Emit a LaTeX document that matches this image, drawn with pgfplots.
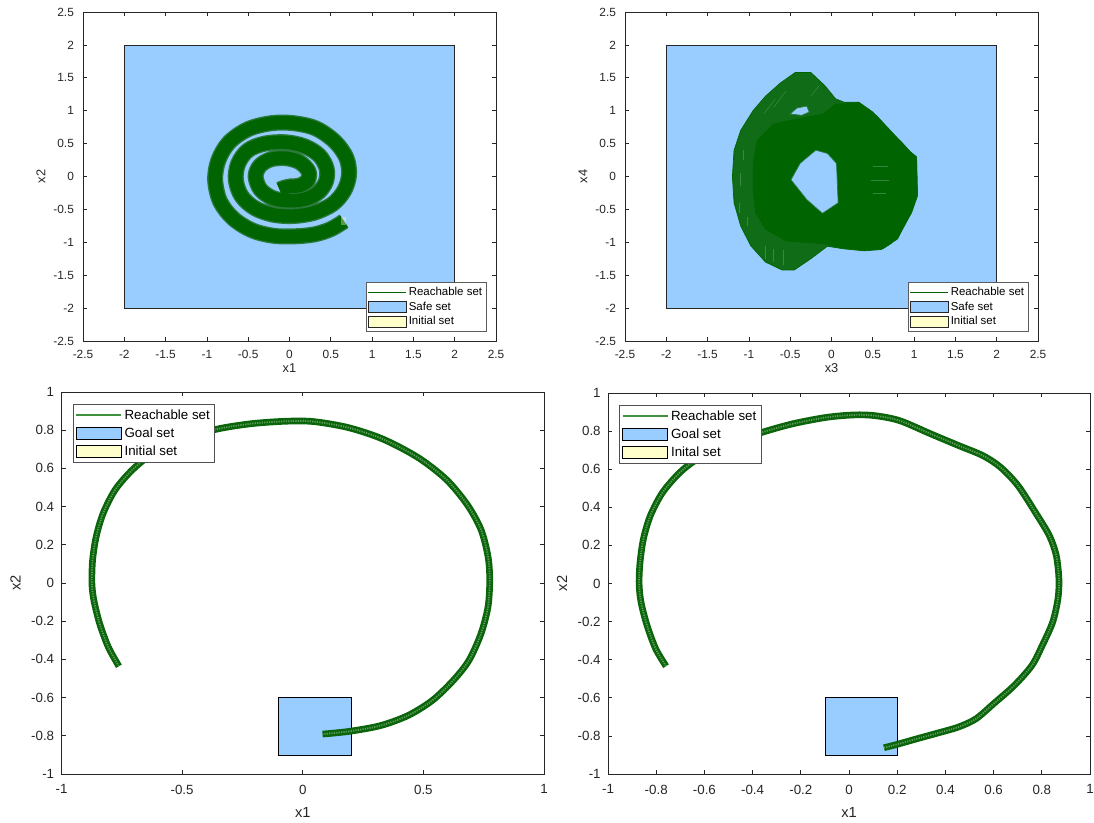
\documentclass[border=0pt]{standalone}
\usepackage{fontspec}
\setmainfont{Liberation Sans}
\usepackage{pgfplots}
\pgfplotsset{compat=1.18}
\definecolor{axgray}{HTML}{262626}
\definecolor{safeblue}{HTML}{99CCFF}
\definecolor{inityellow}{HTML}{FFFFCC}
\definecolor{reachgreen}{HTML}{006400}
\definecolor{hatchgreen}{HTML}{2B7A3C}
\definecolor{hatchdark}{HTML}{106C16}
\definecolor{streak}{HTML}{4C9456}
\definecolor{legline}{HTML}{3F913F}
\definecolor{tubedark}{HTML}{0B650B}
\definecolor{tubelight}{HTML}{5E9E5E}

\pgfplotsset{
  matstyle/.style={
    scale only axis,
    axis line style={axgray, line width=0.6pt},
    tick style={axgray, line width=0.5pt},
    tick align=inside,
    major tick length=3pt,
    ticklabel style={text=axgray},
    label style={text=axgray},
    /pgf/number format/assume math mode=true,
    /pgf/number format/fixed,
    no markers,
    legend cell align=left,
  },
  topstyle/.style={
    matstyle,
    width=309.75pt, height=246.75pt,
    xmin=-2.5, xmax=2.5, ymin=-2.5, ymax=2.5,
    xtick={-2.5,-2,-1.5,-1,-0.5,0,0.5,1,1.5,2,2.5},
    ytick={-2.5,-2,-1.5,-1,-0.5,0,0.5,1,1.5,2,2.5},
    ticklabel style={font=\fontsize{8.9}{10}\selectfont},
    xticklabel style={yshift=-3.3pt},
    yticklabel style={xshift=-3.3pt},
    label style={font=\fontsize{9.6}{11}\selectfont},
    xlabel style={at={(axis description cs:0.5,0)}, anchor=center, yshift=-20pt},
    ylabel style={at={(axis description cs:0,0.5)}, anchor=center, yshift=31.5pt},
    legend style={at={(0.9775,0.027)}, anchor=south east, draw=axgray!75, line width=0.5pt,
      font=\fontsize{8.6}{10}\selectfont, inner xsep=1.6pt, inner ysep=2pt, row sep=0.3pt,
      nodes={inner sep=1.6pt}},
  },
  botstyle/.style={
    matstyle,
    xmin=-1, xmax=1, ymin=-1, ymax=1,
    ytick={-1,-0.8,-0.6,-0.4,-0.2,0,0.2,0.4,0.6,0.8,1},
    ticklabel style={font=\fontsize{10}{12}\selectfont},
    xticklabel style={yshift=-4.5pt},
    yticklabel style={xshift=-2pt},
    label style={font=\fontsize{11}{13}\selectfont},
    xlabel style={at={(axis description cs:0.5,0)}, anchor=center, yshift=-28.5pt},
    ylabel style={at={(axis description cs:0,0.5)}, anchor=center, yshift=34.5pt},
    legend style={at={(0.0234,0.9686)}, anchor=north west, draw=axgray!80, line width=0.5pt,
      font=\fontsize{10}{12}\selectfont, inner xsep=1.8pt, inner ysep=2pt, row sep=1.1pt,
      nodes={inner sep=1.9pt}},
  },
  legreach/.style={legend image code/.code={\draw[draw=reachgreen, line width=0.45pt] (0pt,0pt) -- (28.5pt,0pt);}},
  legsafe/.style={legend image code/.code={\draw[fill=safeblue, draw=axgray, line width=0.5pt] (0pt,-4.1pt) rectangle (28.5pt,4.1pt);}},
  leginit/.style={legend image code/.code={\draw[fill=inityellow, draw=axgray, line width=0.5pt] (0pt,-4.1pt) rectangle (28.5pt,4.1pt);}},
  legreachB/.style={legend image code/.code={\draw[draw=legline, line width=1.3pt] (0pt,0pt) -- (33.6pt,0pt);}},
  leggoalB/.style={legend image code/.code={\draw[fill=safeblue, draw=black, line width=0.6pt] (0pt,-4.5pt) rectangle (33.6pt,4.5pt);}},
  leginitB/.style={legend image code/.code={\draw[fill=inityellow, draw=black, line width=0.6pt] (0pt,-4.5pt) rectangle (33.6pt,4.5pt);}},
}

\begin{document}
\begin{tikzpicture}
\path[use as bounding box] (0pt,0pt) rectangle (820.5pt,616.5pt);

%================ top left =================
\begin{axis}[topstyle, at={(62.25pt,360.75pt)}, anchor=south west,
  xlabel={x1}, ylabel={x2}]
\addplot[fill=safeblue, draw=axgray, line width=0.4pt, forget plot]
  coordinates {(-2,-2) (2,-2) (2,2) (-2,2)} --cycle;
\addplot[draw=hatchgreen, line width=12pt, smooth, tension=0.55, line join=round, forget plot]
  coordinates {
  (0.66,-0.68) (0.50,-0.80) (0.30,-0.88) (0.05,-0.91) (-0.20,-0.90) (-0.45,-0.82)
  (-0.68,-0.64) (-0.84,-0.38) (-0.90,-0.05) (-0.86,0.25) (-0.73,0.52) (-0.50,0.72)
  (-0.22,0.81) (0.05,0.81) (0.32,0.73) (0.55,0.53) (0.69,0.28) (0.72,0.02)
  (0.66,-0.22) (0.52,-0.42) (0.30,-0.55) (0.05,-0.60) (-0.20,-0.58) (-0.42,-0.48)
  (-0.58,-0.30) (-0.65,-0.05) (-0.62,0.20) (-0.50,0.40) (-0.30,0.50) (-0.05,0.52)
  (0.18,0.46) (0.36,0.32) (0.45,0.12) (0.44,-0.08) (0.35,-0.24) (0.20,-0.34)
  (0.00,-0.37) (-0.20,-0.33) (-0.35,-0.20) (-0.41,0.00) (-0.36,0.16) (-0.23,0.26)
  (-0.05,0.28) (0.12,0.22) (0.23,0.08) (0.22,-0.06) (0.12,-0.14) (0.02,-0.15)
  (-0.06,-0.17) (-0.12,-0.20)};
\addplot[draw=reachgreen, line width=10pt, smooth, tension=0.55, line join=round, forget plot]
  coordinates {
  (0.66,-0.68) (0.50,-0.80) (0.30,-0.88) (0.05,-0.91) (-0.20,-0.90) (-0.45,-0.82)
  (-0.68,-0.64) (-0.84,-0.38) (-0.90,-0.05) (-0.86,0.25) (-0.73,0.52) (-0.50,0.72)
  (-0.22,0.81) (0.05,0.81) (0.32,0.73) (0.55,0.53) (0.69,0.28) (0.72,0.02)
  (0.66,-0.22) (0.52,-0.42) (0.30,-0.55) (0.05,-0.60) (-0.20,-0.58) (-0.42,-0.48)
  (-0.58,-0.30) (-0.65,-0.05) (-0.62,0.20) (-0.50,0.40) (-0.30,0.50) (-0.05,0.52)
  (0.18,0.46) (0.36,0.32) (0.45,0.12) (0.44,-0.08) (0.35,-0.24) (0.20,-0.34)
  (0.00,-0.37) (-0.20,-0.33) (-0.35,-0.20) (-0.41,0.00) (-0.36,0.16) (-0.23,0.26)
  (-0.05,0.28) (0.12,0.22) (0.23,0.08) (0.22,-0.06) (0.12,-0.14) (0.02,-0.15)
  (-0.06,-0.17) (-0.12,-0.20)};
\addplot[fill=inityellow, draw=none, fill opacity=0.35, forget plot]
  coordinates {(0.62,-0.74) (0.69,-0.74) (0.69,-0.62) (0.62,-0.62)} --cycle;
\addlegendimage{legreach}
\addlegendimage{legsafe}
\addlegendimage{leginit}
\legend{Reachable set, Safe set, Initial set}
\end{axis}

%================ top right =================
\begin{axis}[topstyle, at={(468.75pt,360.75pt)}, anchor=south west,
  xlabel={x3}, ylabel={x4}]
\addplot[fill=safeblue, draw=axgray, line width=0.4pt, forget plot]
  coordinates {(-2,-2) (2,-2) (2,2) (-2,2)} --cycle;
% outer envelope (hatched region)
\addplot[fill=hatchdark, draw=reachgreen, line width=0.5pt, forget plot]
  coordinates {(-0.44,1.58) (-0.25,1.58) (-0.08,1.38) (0.05,1.18) (0.15,1.13) (0.33,1.13)
  (0.50,0.98) (0.68,0.72) (0.85,0.52) (0.95,0.38) (1.03,0.30) (1.04,-0.30) (0.97,-0.55)
  (0.85,-0.82) (0.72,-1.02) (0.60,-1.11) (0.40,-1.13) (0.15,-1.10) (-0.05,-1.06)
  (-0.25,-1.25) (-0.45,-1.42) (-0.60,-1.42) (-0.80,-1.30) (-0.98,-1.05) (-1.10,-0.75)
  (-1.18,-0.40) (-1.20,0.00) (-1.18,0.40) (-1.10,0.70) (-0.95,1.00) (-0.80,1.22)
  (-0.62,1.42)} --cycle;
% light streaks in the hatched parts
\addplot[draw=streak, line width=0.4pt, draw opacity=0.7, forget plot] coordinates {(-1.12,-0.55) (-1.12,-0.40)};
\addplot[draw=streak, line width=0.4pt, draw opacity=0.7, forget plot] coordinates {(-1.10,-0.15) (-1.10,0.05)};
\addplot[draw=streak, line width=0.4pt, draw opacity=0.7, forget plot] coordinates {(-1.07,0.25) (-1.07,0.40)};
\addplot[draw=streak, line width=0.4pt, draw opacity=0.7, forget plot] coordinates {(-1.02,-0.75) (-1.02,-0.62)};
\addplot[draw=streak, line width=0.4pt, draw opacity=0.7, forget plot] coordinates {(-0.80,-1.25) (-0.80,-1.05)};
\addplot[draw=streak, line width=0.4pt, draw opacity=0.7, forget plot] coordinates {(-0.70,-1.30) (-0.70,-1.10)};
\addplot[draw=streak, line width=0.4pt, draw opacity=0.7, forget plot] coordinates {(-0.58,-1.35) (-0.58,-1.12)};
\addplot[draw=streak, line width=0.4pt, draw opacity=0.7, forget plot] coordinates {(-0.70,1.05) (-0.55,1.30)};
\addplot[draw=streak, line width=0.4pt, draw opacity=0.7, forget plot] coordinates {(-0.82,0.95) (-0.68,1.18)};
\addplot[draw=streak, line width=0.4pt, draw opacity=0.7, forget plot] coordinates {(-0.25,1.22) (-0.15,1.38)};
% solid core
\addplot[fill=reachgreen, draw=reachgreen, line width=0.4pt, forget plot]
  coordinates {(-0.90,0.55) (-0.70,0.80) (-0.40,0.88) (-0.10,0.95) (0.05,1.10) (0.33,1.12)
  (0.55,0.92) (0.75,0.65) (0.95,0.38) (1.03,0.28) (1.04,-0.28) (0.95,-0.58) (0.80,-0.95)
  (0.62,-1.10) (0.40,-1.12) (0.10,-1.08) (-0.10,-1.02) (-0.35,-1.00) (-0.55,-0.98)
  (-0.80,-0.80) (-0.92,-0.55) (-0.95,-0.20) (-0.95,0.20)} --cycle;
\addplot[draw=streak, line width=0.4pt, draw opacity=0.7, forget plot] coordinates {(0.50,0.15) (0.68,0.15)};
\addplot[draw=streak, line width=0.4pt, draw opacity=0.7, forget plot] coordinates {(0.48,-0.05) (0.70,-0.05)};
\addplot[draw=streak, line width=0.4pt, draw opacity=0.7, forget plot] coordinates {(0.50,-0.25) (0.66,-0.25)};
% central hole
\addplot[fill=safeblue, draw=hatchgreen, line width=0.5pt, forget plot]
  coordinates {(-0.19,0.40) (-0.05,0.35) (0.06,0.20) (0.08,-0.40) (-0.11,-0.56)
  (-0.30,-0.35) (-0.49,-0.05) (-0.38,0.20)} --cycle;
% upper small hole
\addplot[fill=safeblue, draw=hatchgreen, line width=0.5pt, forget plot]
  coordinates {(-0.50,0.95) (-0.42,1.04) (-0.30,1.07) (-0.27,0.98) (-0.36,0.93)} --cycle;
\addlegendimage{legreach}
\addlegendimage{legsafe}
\addlegendimage{leginit}
\legend{Reachable set, Safe set, Initial set}
\end{axis}

%================ bottom left =================
\begin{axis}[botstyle, at={(46.125pt,36pt)}, anchor=south west,
  width=361.875pt, height=286.5pt,
  xtick={-1,-0.5,0,0.5,1},
  xlabel={x1}, ylabel={x2}]
\addplot[fill=safeblue, draw=black, line width=0.6pt, forget plot]
  coordinates {(-0.1,-0.9) (0.2,-0.9) (0.2,-0.6) (-0.1,-0.6)} --cycle;
\addplot[draw=tubedark, line width=5pt, smooth, forget plot] coordinates {
  (-0.762,-0.436) (-0.806,-0.335) (-0.842,-0.212) (-0.866,-0.089) (-0.874,0.0)
  (-0.871,0.121) (-0.856,0.244) (-0.827,0.366) (-0.777,0.489) (-0.705,0.594)
  (-0.618,0.682) (-0.503,0.752) (-0.358,0.805) (-0.214,0.834) (-0.069,0.847)
  (0.046,0.845) (0.191,0.813) (0.335,0.752) (0.479,0.656) (0.595,0.542)
  (0.682,0.410) (0.739,0.279) (0.768,0.138) (0.775,0.016) (0.768,-0.124)
  (0.739,-0.265) (0.689,-0.405) (0.624,-0.510) (0.537,-0.615) (0.436,-0.694)
  (0.321,-0.747) (0.191,-0.777) (0.082,-0.791)};
\addplot[draw=tubelight, line width=1.3pt, smooth, dash pattern=on 0.9pt off 0.9pt, forget plot] coordinates {
  (-0.762,-0.436) (-0.806,-0.335) (-0.842,-0.212) (-0.866,-0.089) (-0.874,0.0)
  (-0.871,0.121) (-0.856,0.244) (-0.827,0.366) (-0.777,0.489) (-0.705,0.594)
  (-0.618,0.682) (-0.503,0.752) (-0.358,0.805) (-0.214,0.834) (-0.069,0.847)
  (0.046,0.845) (0.191,0.813) (0.335,0.752) (0.479,0.656) (0.595,0.542)
  (0.682,0.410) (0.739,0.279) (0.768,0.138) (0.775,0.016) (0.768,-0.124)
  (0.739,-0.265) (0.689,-0.405) (0.624,-0.510) (0.537,-0.615) (0.436,-0.694)
  (0.321,-0.747) (0.191,-0.777) (0.082,-0.791)};
\addlegendimage{legreachB}
\addlegendimage{leggoalB}
\addlegendimage{leginitB}
\legend{Reachable set, Goal set, Initial set}
\end{axis}

%================ bottom right =================
\begin{axis}[botstyle, at={(456pt,36pt)}, anchor=south west,
  width=361.5pt, height=285.75pt,
  xtick={-1,-0.8,-0.6,-0.4,-0.2,0,0.2,0.4,0.6,0.8,1},
  xlabel={x1}, ylabel={x2}]
\addplot[fill=safeblue, draw=black, line width=0.6pt, forget plot]
  coordinates {(-0.1,-0.9) (0.2,-0.9) (0.2,-0.6) (-0.1,-0.6)} --cycle;
\addplot[draw=tubedark, line width=5pt, smooth, forget plot] coordinates {
  (-0.759,-0.434) (-0.802,-0.343) (-0.838,-0.220) (-0.863,-0.098) (-0.871,0.0)
  (-0.867,0.112) (-0.853,0.234) (-0.824,0.357) (-0.773,0.479) (-0.701,0.584)
  (-0.629,0.654) (-0.527,0.724) (-0.383,0.785) (-0.238,0.837) (-0.094,0.872)
  (0.022,0.885) (0.108,0.881) (0.210,0.855) (0.340,0.785) (0.455,0.724)
  (0.556,0.671) (0.629,0.610) (0.701,0.514) (0.773,0.374) (0.831,0.252)
  (0.860,0.147) (0.871,0.024) (0.867,-0.080) (0.845,-0.203) (0.802,-0.325)
  (0.759,-0.430) (0.686,-0.535) (0.600,-0.631) (0.527,-0.710) (0.455,-0.753)
  (0.368,-0.785) (0.282,-0.815) (0.195,-0.846) (0.145,-0.862)};
\addplot[draw=tubelight, line width=1.3pt, smooth, dash pattern=on 0.9pt off 0.9pt, forget plot] coordinates {
  (-0.759,-0.434) (-0.802,-0.343) (-0.838,-0.220) (-0.863,-0.098) (-0.871,0.0)
  (-0.867,0.112) (-0.853,0.234) (-0.824,0.357) (-0.773,0.479) (-0.701,0.584)
  (-0.629,0.654) (-0.527,0.724) (-0.383,0.785) (-0.238,0.837) (-0.094,0.872)
  (0.022,0.885) (0.108,0.881) (0.210,0.855) (0.340,0.785) (0.455,0.724)
  (0.556,0.671) (0.629,0.610) (0.701,0.514) (0.773,0.374) (0.831,0.252)
  (0.860,0.147) (0.871,0.024) (0.867,-0.080) (0.845,-0.203) (0.802,-0.325)
  (0.759,-0.430) (0.686,-0.535) (0.600,-0.631) (0.527,-0.710) (0.455,-0.753)
  (0.368,-0.785) (0.282,-0.815) (0.195,-0.846) (0.145,-0.862)};
\addlegendimage{legreachB}
\addlegendimage{leggoalB}
\addlegendimage{leginitB}
\legend{Reachable set, Goal set, Inital set}
\end{axis}
\end{tikzpicture}
\end{document}
